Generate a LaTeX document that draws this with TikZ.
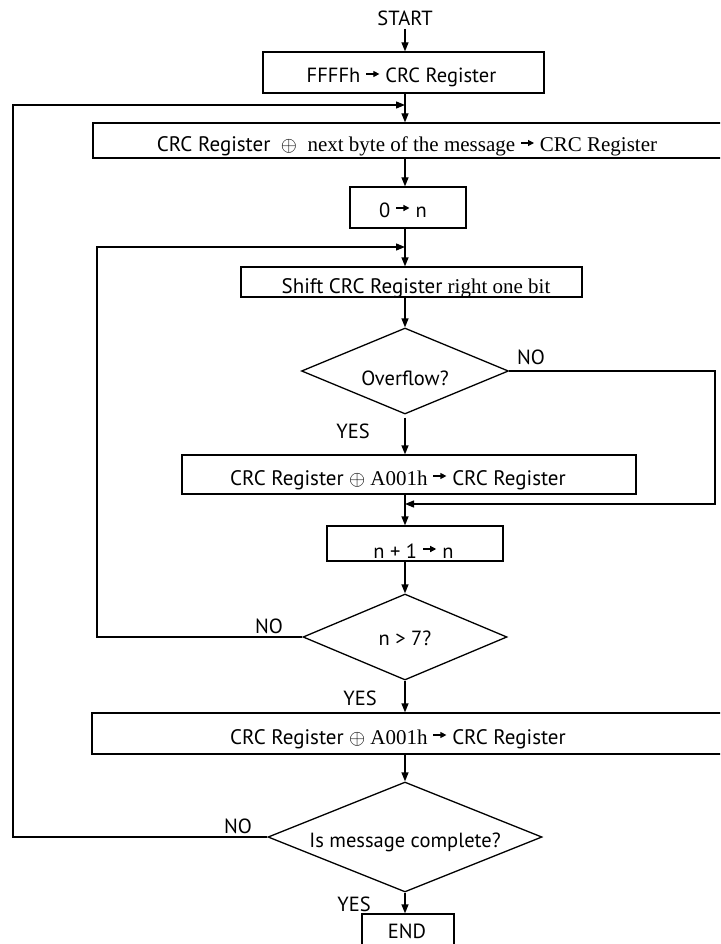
\documentclass[tikz,border=0pt]{standalone}
\usepackage{fontspec}
\setmainfont{Liberation Serif}
\newfontfamily\ptsans{PT Sans}
\usetikzlibrary{shapes.geometric,arrows.meta}
\newcommand\arw{\raisebox{6pt}{\tikz\draw[line width=1.2pt,-{Triangle[length=6pt,width=6pt]}] (0pt,0pt) -- (13pt,0pt);}}
\newcommand\xo{$\oplus$}
\tikzset{
  boxnode/.style={draw,line width=1.3pt,rectangle,inner sep=0pt},
  dianode/.style={draw,line width=1.3pt,diamond,inner sep=0pt},
  sanstxt/.style={font=\ptsans\fontsize{20.5}{24}\selectfont,inner sep=0pt,anchor=base},
  mixtxt/.style={font=\fontsize{21}{24}\selectfont,inner sep=0pt,anchor=base},
  conn/.style={line width=1.3pt},
  arr/.style={line width=1.3pt,-{Triangle[length=9pt,width=7pt]}},
}
\begin{document}
\begin{tikzpicture}[x=1pt,y=-1pt]
\useasboundingbox (0,0) rectangle (720,944);
\clip (0,0) rectangle (720,944);
\fill[white] (0,0) rectangle (720,944);
\coordinate (cx) at (405,0);
% boxes
\node[boxnode,minimum width=281,minimum height=41] (b1) at (403.5,72.5) {};
\node[boxnode,minimum width=632,minimum height=35] (b2) at (409,140.5) {};
\node[boxnode,minimum width=116,minimum height=41] (b3) at (408,207.5) {};
\node[boxnode,minimum width=341,minimum height=30] (b4) at (411.5,282) {};
\node[dianode,minimum width=207,minimum height=86] (d1) at (405,371) {};
\node[boxnode,minimum width=454,minimum height=39] (b5) at (409,474.5) {};
\node[boxnode,minimum width=176,minimum height=35] (b6) at (415,543.5) {};
\node[dianode,minimum width=204,minimum height=86] (d2) at (405,637) {};
\node[boxnode,minimum width=633,minimum height=41] (b7) at (408.5,733.5) {};
\node[dianode,minimum width=274,minimum height=110] (d3) at (405,837) {};
\node[boxnode,minimum width=92,minimum height=46] (b8) at (408,937) {};
% texts
\node[sanstxt] (tstart) at (405,26) {START};
\node[sanstxt] (t1) at (401.5,83) {FFFFh \arw\ CRC Register};
\node[mixtxt] (t2) at (407,152) {{\ptsans CRC Register}\ \ \xo\ \ next byte of the message \arw\ CRC Register};
\node[sanstxt] (t3) at (403,217) {0 \arw\ n};
\node[mixtxt] (t4) at (416,293) {{\ptsans Shift CRC Register} right one bit};
\node[sanstxt] (t5) at (405,385) {Overflow?};
\node[mixtxt] (t6) at (398,485) {{\ptsans CRC Register} \xo\ A001h \arw\ {\ptsans CRC Register}};
\node[sanstxt] (t7) at (413.5,558) {n + 1 \arw\ n};
\node[sanstxt] (t8) at (405,645) {n > 7?};
\node[mixtxt] (t9) at (398,744) {{\ptsans CRC Register} \xo\ A001h \arw\ {\ptsans CRC Register}};
\node[sanstxt] (t10) at (405,847) {Is message complete?};
\node[sanstxt] (t11) at (407,938) {END};
% branch labels
\node[sanstxt] (no1) at (531,364) {NO};
\node[sanstxt] (yes1) at (353,438) {YES};
\node[sanstxt] (no2) at (269,633) {NO};
\node[sanstxt] (yes2) at (360,705) {YES};
\node[sanstxt] (no3) at (238,833) {NO};
\node[sanstxt] (yes3) at (354,911) {YES};
% junctions
\coordinate (j1) at (405,105);
\coordinate (j2) at (405,247);
\coordinate (j3) at (405,504);
% main flow
\draw[arr] (405,29) -- (b1.north -| cx);
\draw[arr] (b1.south -| cx) -- (b2.north -| cx);
\draw[arr] (b2.south -| cx) -- (b3.north -| cx);
\draw[arr] (b3.south -| cx) -- (b4.north -| cx);
\draw[arr] (b4.south -| cx) -- (d1.north);
\draw[arr] ([yshift=-3pt]d1.south) -- (b5.north -| cx);
\draw[arr] (b5.south -| cx) -- (b6.north -| cx);
\draw[arr] (b6.south -| cx) -- (d2.north);
\draw[arr] (d2.south) -- (b7.north -| cx);
\draw[arr] (b7.south -| cx) -- (d3.north);
\draw[arr] (d3.south) -- (b8.north -| cx);
% loops
\draw[arr] (d1.east) -- (715,371) -- (715,504) -- (j3);
\draw[arr] (d2.west) -- (97,637) -- (97,247) -- (j2);
\draw[arr] (d3.west) -- (13,837) -- (13,105) -- (j1);
\end{tikzpicture}
\end{document}
